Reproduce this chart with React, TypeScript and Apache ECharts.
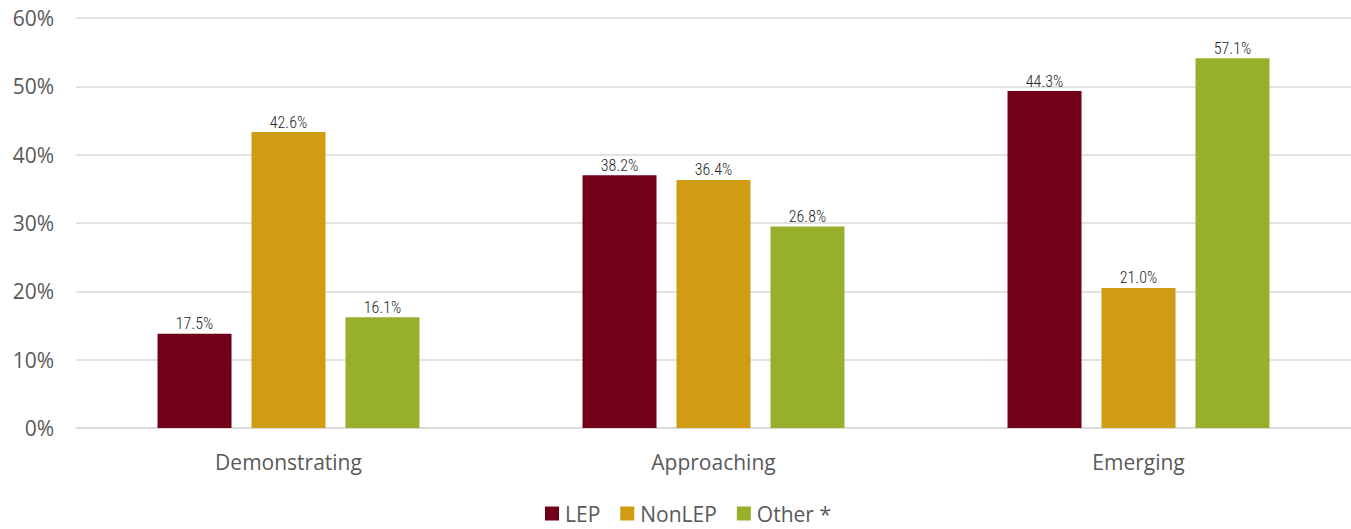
import React, { useEffect, useRef } from "react";
import * as echarts from "echarts";

const categories = ["Demonstrating", "Approaching", "Emerging"];
const seriesNames = ["LEP", "NonLEP", "Other *"];
const seriesColors = ["#720019", "#D09C13", "#96B02C"];
// bar heights as drawn in the picture (percent)
const lepBars = [13.8, 37.0, 49.3];
const nonLepBars = [43.3, 36.3, 20.5];
const otherBars = [16.2, 29.5, 54.1];
// printed data labels
const lepLabels = ["17.5%", "38.2%", "44.3%"];
const nonLepLabels = ["42.6%", "36.4%", "21.0%"];
const otherLabels = ["16.1%", "26.8%", "57.1%"];
const yTicks = [0, 10, 20, 30, 40, 50, 60];

export default function App() {
  const ref = useRef<HTMLDivElement>(null);
  useEffect(() => {
    if (!ref.current) return;
    const chart = echarts.init(ref.current, undefined, { renderer: "svg" });
    const bars = [lepBars, nonLepBars, otherBars];
    const labels = [lepLabels, nonLepLabels, otherLabels];
    chart.setOption({
      animation: false,
      backgroundColor: "#ffffff",
      grid: { left: 76, top: 18, width: 1278, height: 410, containLabel: false },
      legend: {
        data: seriesNames,
        left: 545,
        top: 503,
        padding: 0,
        itemWidth: 14,
        itemHeight: 14,
        itemGap: 20,
        icon: "rect",
        textStyle: { fontFamily: "Open Sans", fontSize: 21, lineHeight: 21, color: "#595959", padding: [0, 0, 0, 1] },
      },
      xAxis: {
        type: "category",
        data: categories,
        axisLine: { show: true, lineStyle: { color: "#d9d9d9", width: 1.5 } },
        axisTick: { show: false },
        axisLabel: { fontFamily: "Open Sans", fontSize: 21, color: "#595959", margin: 23 },
      },
      yAxis: {
        type: "value",
        min: yTicks[0],
        max: yTicks[yTicks.length - 1],
        interval: 10,
        axisLine: { show: false },
        axisTick: { show: false },
        splitLine: { lineStyle: { color: "#d9d9d9", width: 1.5 } },
        axisLabel: {
          fontFamily: "Open Sans",
          fontSize: 21,
          color: "#595959",
          margin: 22,
          formatter: (v: number) => v + "%",
        },
      },
      series: seriesNames.map((name, si) => ({
        name,
        type: "bar",
        barWidth: 74,
        barGap: "27%",
        itemStyle: { color: seriesColors[si] },
        label: {
          show: true,
          position: "top",
          distance: 2,
          fontFamily: "Roboto Condensed, DejaVu Sans Condensed, sans-serif",
          fontWeight: 300,
          fontSize: 16,
          color: "#262626",
          formatter: (p: any) => labels[si][p.dataIndex],
        },
        data: bars[si],
      })),
    });
    return () => chart.dispose();
  }, []);
  return (
    <div
      ref={ref}
      style={{ position: "fixed", left: 0, top: 0, width: 1351, height: 529 }}
    />
  );
}
